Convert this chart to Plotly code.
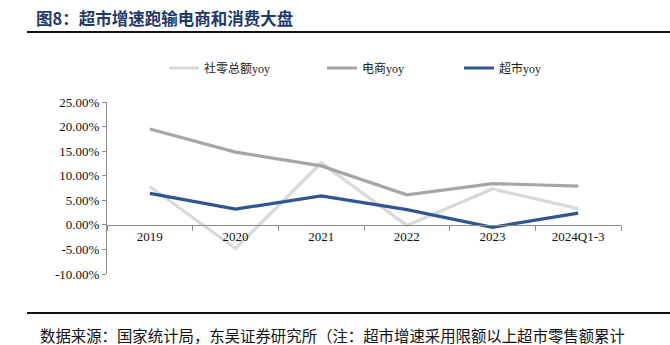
import plotly.graph_objects as go

categories = ["2019", "2020", "2021", "2022", "2023", "2024Q1-3"]
retail_yoy = [7.8, -4.8, 12.6, -0.1, 7.3, 3.3]       # 社零总额yoy
ecommerce_yoy = [19.5, 14.8, 12.0, 6.1, 8.4, 7.9]    # 电商yoy
supermarket_yoy = [6.4, 3.2, 5.9, 3.1, -0.5, 2.4]    # 超市yoy
y_ticks = [-10, -5, 0, 5, 10, 15, 20, 25]
y_tick_text = [f"{v:.2f}%" for v in y_ticks]

TITLE = "图8：超市增速跑输电商和消费大盘"
SOURCE = "数据来源：国家统计局，东吴证券研究所（注：超市增速采用限额以上超市零售额累计"

FONT = "Liberation Serif, Noto Sans CJK SC"
W, H = 670, 345
L, R, T, B = 107, 49, 102, 71
PW, PH = W - L - R, H - T - B


def px_x(px):
    return (px - L) / PW


def px_y(py):
    return (H - B - py) / PH


fig = go.Figure()
series = [
    ("社零总额yoy", retail_yoy, "#d9d9d9", "legend", 174),
    ("电商yoy", ecommerce_yoy, "#a6a6a6", "legend2", 332),
    ("超市yoy", supermarket_yoy, "#2f5593", "legend3", 469),
]
for name, vals, color, leg, _ in series:
    fig.add_trace(go.Scatter(
        x=categories, y=vals, name=name, mode="lines",
        line=dict(color=color, width=3.2), legend=leg,
    ))

legend_common = dict(
    orientation="h", xanchor="left", yanchor="middle",
    font=dict(family=FONT, size=12, color="#222"),
    bgcolor="rgba(0,0,0,0)", borderwidth=0,
)
fig.update_layout(
    legend=dict(x=px_x(series[0][4] - 10), y=px_y(68), **legend_common),
    legend2=dict(x=px_x(series[1][4] - 10), y=px_y(68), **legend_common),
    legend3=dict(x=px_x(series[2][4] - 10), y=px_y(68), **legend_common),
)

fig.update_layout(
    width=W, height=H,
    margin=dict(l=L, r=R, t=T, b=B),
    paper_bgcolor="white", plot_bgcolor="white",
    showlegend=True,
    xaxis=dict(
        type="category", anchor="free", position=10 / 35,
        range=[-0.5, len(categories) - 0.5],
        showline=True, linecolor="#8c8c8c", linewidth=1,
        ticks="outside", tickson="boundaries", ticklen=5, tickcolor="#8c8c8c",
        showgrid=False, zeroline=False,
        tickfont=dict(family=FONT, size=13, color="#111"),
    ),
    yaxis=dict(
        range=[-10, 25], tickvals=y_ticks, ticktext=y_tick_text,
        showline=True, linecolor="#8c8c8c", linewidth=1,
        ticks="outside", ticklen=4, tickcolor="#8c8c8c",
        showgrid=False, zeroline=False,
        tickfont=dict(family=FONT, size=13, color="#111"),
    ),
)

# Header title and the rules above the plot and below it
fig.add_annotation(
    text=f"<b>{TITLE}</b>", xref="paper", yref="paper",
    x=px_x(34), y=px_y(18), xanchor="left", yanchor="middle",
    showarrow=False, font=dict(family="Noto Sans CJK SC", size=16.5, color="#1f3a6a"),
)
fig.add_shape(type="line", xref="paper", yref="paper",
              x0=px_x(27), x1=px_x(670), y0=px_y(32), y1=px_y(32),
              line=dict(color="#111", width=2))
fig.add_shape(type="line", xref="paper", yref="paper",
              x0=px_x(27), x1=px_x(670), y0=px_y(313), y1=px_y(313),
              line=dict(color="#111", width=2))
fig.add_annotation(
    text=SOURCE, xref="paper", yref="paper",
    x=px_x(38), y=px_y(335), xanchor="left", yanchor="middle",
    showarrow=False, font=dict(family="Noto Sans CJK SC", size=15.4, color="#111"),
)

fig.write_html("out.html")
